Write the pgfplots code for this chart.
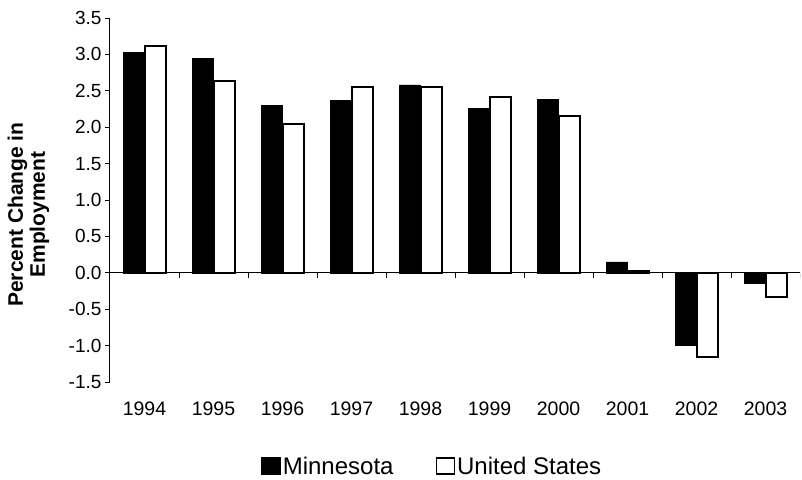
\documentclass[border=0pt]{standalone}
\usepackage{fontspec}
\setmainfont{Liberation Sans}
\usepackage{pgfplots}
\pgfplotsset{compat=1.18}
\begin{document}
\begin{tikzpicture}
\begin{axis}[
  width=690pt, height=364pt, scale only axis,
  xmin=-0.5, xmax=9.5, ymin=-1.5, ymax=3.5,
  axis y line*=left, axis x line*=bottom,
  x axis line style={draw=none},
  y axis line style={line width=1pt},
  xtick={0,1,2,3,4,5,6,7,8,9},
  xticklabels={1994,1995,1996,1997,1998,1999,2000,2001,2002,2003},
  x tick style={draw=none},
  xticklabel style={font=\fontsize{19.5}{21}\selectfont, yshift=-11pt},
  ytick={-1.5,-1,-0.5,0,0.5,1,1.5,2,2.5,3,3.5},
  yticklabel style={font=\fontsize{19}{21}\selectfont,
    /pgf/number format/.cd, fixed, fixed zerofill, precision=1, assume math mode=true},
  y tick style={line width=0.8pt, black},
  tick align=outside, major tick length=5pt,
  ylabel={Percent Change in\\Employment},
  ylabel style={font=\bfseries\fontsize{21}{22}\selectfont, align=center,
    at={(axis description cs:-0.083,0.46)}, anchor=south},
  ybar=0pt, bar width=0.31,
  legend style={draw=none, at={(0.467,-0.231)}, anchor=center,
    legend columns=2, font=\fontsize{24}{26}\selectfont,
    /tikz/every even column/.append style={column sep=40pt}},
  legend image code/.code={\draw[#1, line width=1.6pt] (0pt,-8pt) rectangle (18pt,8pt);},
]
\coordinate (sw) at (rel axis cs:0,0);
\addplot[fill=black, draw=black] coordinates {
 (0,3.03) (1,2.95) (2,2.30) (3,2.37) (4,2.58) (5,2.26) (6,2.38) (7,0.15) (8,-1.00) (9,-0.14)};
\addlegendentry{Minnesota}
\addplot[fill=white, draw=black, line width=2pt] coordinates {
 (0,3.11) (1,2.63) (2,2.05) (3,2.55) (4,2.55) (5,2.42) (6,2.16) (7,0.03) (8,-1.15) (9,-0.33)};
\addlegendentry{United States}
\draw[line width=1pt] (axis cs:-0.5,0) -- (axis cs:9.5,0);
\pgfplotsinvokeforeach{0,...,9}{\draw[line width=0.8pt] (axis cs:#1+0.5,0) -- ++(0pt,-5pt);}
\end{axis}
\pgfresetboundingbox
\path ([shift={(-110pt,-97pt)}]sw) rectangle ([shift={(692pt,382pt)}]sw);
\end{tikzpicture}
\end{document}
